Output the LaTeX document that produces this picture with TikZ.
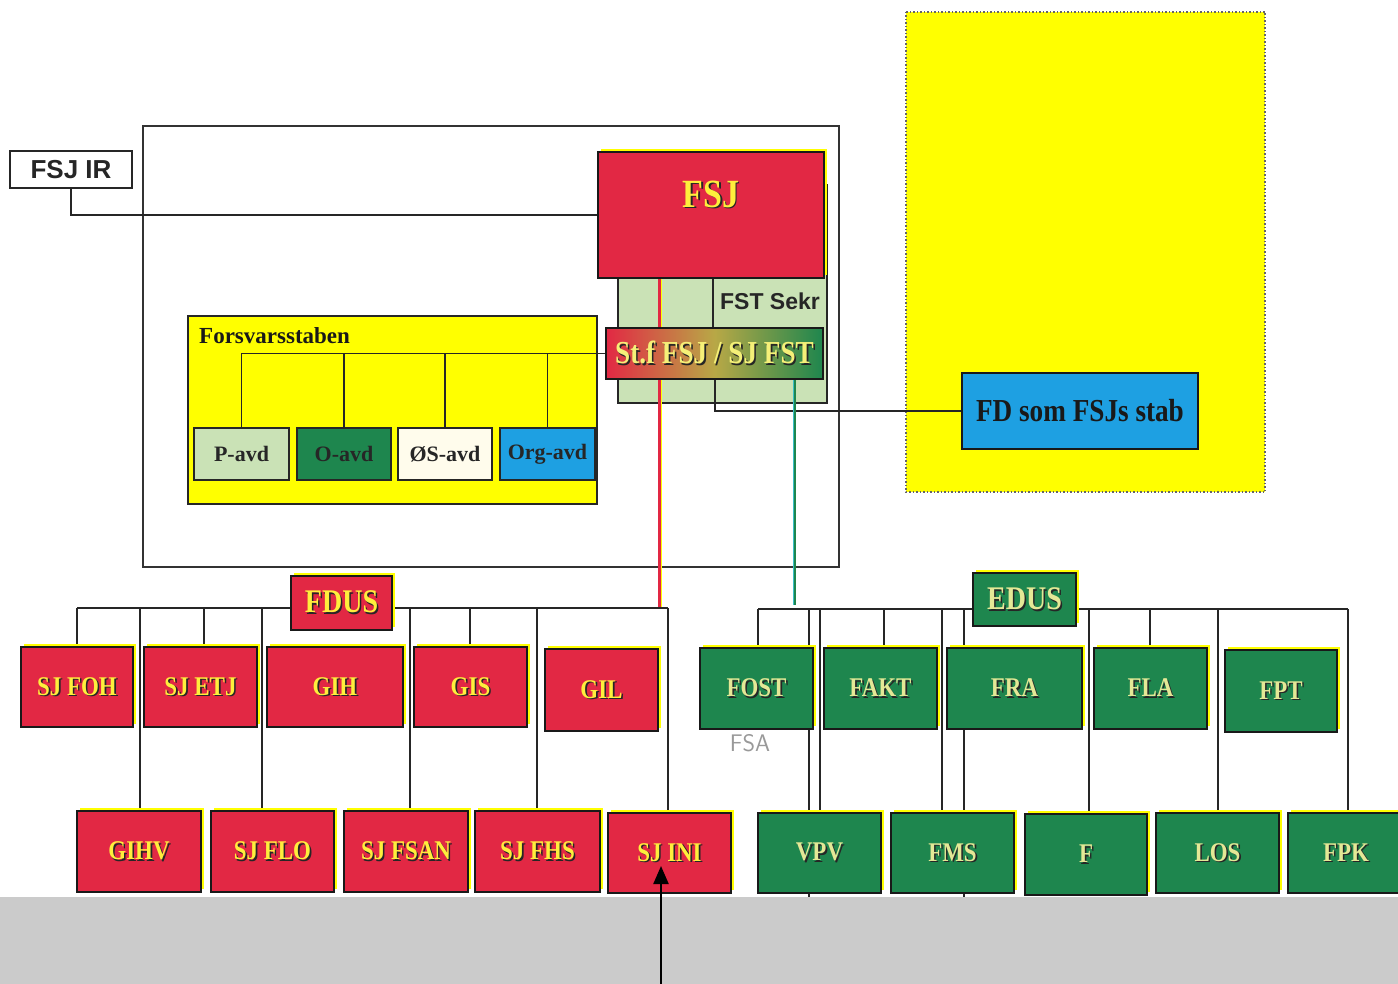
\documentclass[tikz,border=0pt]{standalone}
\usepackage{fontspec}
\setmainfont{Liberation Serif}
\newfontfamily\lblfont[FakeStretch=0.85]{Liberation Serif}
\newfontfamily\sansfont{Liberation Sans}
\usetikzlibrary{shadows,arrows.meta}
\pgfdeclarelayer{back}
\pgfdeclarelayer{wires}
\pgfsetlayers{back,wires,main}
\definecolor{rd}{RGB}{226,40,68}
\definecolor{gr}{RGB}{30,134,78}
\definecolor{ylw}{RGB}{255,255,0}
\definecolor{ytxt}{RGB}{255,238,60}
\definecolor{gtxt}{RGB}{228,232,150}
\definecolor{lgr}{RGB}{202,226,182}
\definecolor{blu}{RGB}{30,160,226}
\definecolor{crm}{RGB}{255,252,236}
\definecolor{band}{RGB}{203,203,203}
\definecolor{stfmid}{RGB}{184,168,70}
\newcommand\sh[1]{\rlap{\hspace{1.6pt}\raisebox{-1.6pt}{\color{black!85}#1}}#1}
\newcommand\ob[7]{\node[#1, minimum width={#5pt-#3pt}, minimum height={#6pt-#4pt}] (#2) at ({(#3+#5)/2},{(#4+#6)/2}) {#7};}
\begin{document}
\begin{tikzpicture}[x=1pt,y=-1pt,
  ubox/.style={draw=black!90, line width=1.5pt, inner sep=0pt,
    drop shadow={shadow xshift=3pt,shadow yshift=3pt,fill=ylw,opacity=1}},
  redbox/.style={ubox, fill=rd, text=ytxt, font=\lblfont\bfseries\fontsize{27}{27}\selectfont},
  grnbox/.style={ubox, fill=gr, text=gtxt, font=\lblfont\bfseries\fontsize{27}{27}\selectfont},
  headred/.style={redbox, font=\lblfont\bfseries\fontsize{33}{33}\selectfont},
  headgrn/.style={grnbox, font=\lblfont\bfseries\fontsize{33}{33}\selectfont},
  subbox/.style={draw=black!85, line width=1.5pt, inner sep=0pt, text=black!85,
    font=\bfseries\fontsize{22}{22}\selectfont},
  wire/.style={draw=black!85, line width=1.5pt},
  thinframe/.style={draw=black!80, line width=1.2pt}]
\useasboundingbox (0,0) rectangle (1398,984);

% ---------- background shapes ----------
\begin{pgfonlayer}{back}
  \fill[white] (0,0) rectangle (1398,984);
  \fill[band] (0,897) rectangle (1398,984);
  \path[fill=ylw, draw=black!60, line width=1.5pt, dotted] (906,12) rectangle (1265,492);
  \draw[thinframe] (143,126) rectangle (839,567);
  \path[fill=lgr, draw=black!85, line width=1.3pt] (618,185) rectangle (827,403);
  \path[fill=ylw, draw=black!85, line width=1.3pt] (188,316) rectangle (597,504);
\end{pgfonlayer}

% ---------- top part nodes ----------
\node[draw=black!85, line width=1.3pt, minimum width=122pt, minimum height=37pt, inner sep=0pt,
  font=\sansfont\bfseries\fontsize{26}{26}\selectfont, text=black!85] (fsjir) at (71,169.5) {FSJ IR};
\ob{ubox, fill=rd}{fsj}{598}{152}{824}{278}{}
\node[font=\lblfont\bfseries\fontsize{40}{40}\selectfont, text=ytxt] (fsjl) at (711,195) {\sh{FSJ}};
\node[font=\sansfont\bfseries\fontsize{23}{23}\selectfont, text=black!85] (sekr) at (770,301) {FST Sekr};
\ob{draw=black!90, line width=1.5pt, inner sep=0pt, left color=rd, right color=gr, middle color=stfmid,
  text={rgb,255:red,245;green,240;blue,120}, font=\lblfont\bfseries\fontsize{32}{32}\selectfont}{stf}{606}{328}{823}{379}{\sh{St.f FSJ / SJ FST}}
\node[anchor=west, inner sep=0pt, font=\bfseries\fontsize{23}{23}\selectfont, text=black!90] (fstab) at (199,336) {Forsvarsstaben};
\ob{subbox, fill=lgr}{pavd}{194}{428}{289}{480}{P-avd}
\ob{subbox, fill=gr}{oavd}{297}{428}{391}{480}{O-avd}
\ob{subbox, fill=crm}{osavd}{398}{428}{492}{480}{ØS-avd}
\ob{subbox, fill=blu}{orgavd}{500}{428}{595}{480}{Org-avd}
\ob{draw=black!90, line width=1.5pt, inner sep=0pt, fill=blu, text=black!90,
  font=\lblfont\bfseries\fontsize{32}{32}\selectfont}{fd}{962}{373}{1198}{449}{FD som FSJs stab}

% ---------- FDUS group ----------
\ob{headred}{fdus}{291}{576}{392}{630}{\sh{FDUS}}
\ob{redbox}{sjfoh}{21}{647}{133}{727}{\sh{SJ FOH}}
\ob{redbox}{sjetj}{144}{647}{257}{727}{\sh{SJ ETJ}}
\ob{redbox}{gih}{267}{647}{403}{727}{\sh{GIH}}
\ob{redbox}{gis}{414}{647}{527}{727}{\sh{GIS}}
\ob{redbox}{gil}{545}{649}{658}{731}{\sh{GIL}}
\ob{redbox}{gihv}{77}{811}{201}{892}{\sh{GIHV}}
\ob{redbox}{sjflo}{211}{811}{334}{892}{\sh{SJ FLO}}
\ob{redbox}{sjfsan}{344}{811}{468}{892}{\sh{SJ FSAN}}
\ob{redbox}{sjfhs}{475}{811}{600}{892}{\sh{SJ FHS}}
\ob{redbox}{sjini}{608}{813}{731}{893}{\sh{SJ INI}}

% ---------- EDUS group ----------
\ob{headgrn}{edus}{973}{573}{1076}{626}{\sh{EDUS}}
\ob{grnbox}{fost}{700}{648}{813}{729}{\sh{FOST}}
\ob{grnbox}{fakt}{824}{648}{937}{729}{\sh{FAKT}}
\ob{grnbox}{fra}{947}{648}{1082}{729}{\sh{FRA}}
\ob{grnbox}{fla}{1094}{648}{1207}{729}{\sh{FLA}}
\ob{grnbox}{fpt}{1225}{650}{1337}{732}{\sh{FPT}}
\ob{grnbox}{vpv}{758}{813}{881}{893}{\sh{VPV}}
\ob{grnbox}{fms}{891}{813}{1014}{893}{\sh{FMS}}
\ob{grnbox}{f}{1025}{814}{1147}{895}{\sh{F}}
\ob{grnbox}{los}{1156}{813}{1279}{893}{\sh{LOS}}
\ob{grnbox}{fpk}{1288}{813}{1404}{893}{\sh{FPK}}

\node[font=\sffamily\fontsize{24}{24}\selectfont, text=black!40] (fsa) at (750,743) {FSA};

% ---------- bus coordinates ----------
\coordinate (rb1) at (77,608);  \coordinate (rb2) at (140,608);
\coordinate (rb3) at (204,608); \coordinate (rb4) at (262,608);
\coordinate (rb5) at (410,608); \coordinate (rb6) at (470,608);
\coordinate (rb7) at (537,608); \coordinate (rb8) at (668,608);
\coordinate (rl) at (659,607);
\coordinate (gb1) at (758,609);  \coordinate (gb2) at (809,609);
\coordinate (gb3) at (820,609);  \coordinate (gb4) at (884,609);
\coordinate (gb5) at (942,609);  \coordinate (gb6) at (964,609);
\coordinate (gb7) at (1089,609); \coordinate (gb8) at (1150,609);
\coordinate (gb9) at (1218,609); \coordinate (gb10) at (1348,609);
\coordinate (gl) at (794,605);
\coordinate (atip) at (661,866);
\coordinate (abase) at (661,984);

% ---------- wires ----------
\begin{pgfonlayer}{wires}
  \draw[wire] (fsjir.south) |- (fsj.west);
  \draw[wire] ([xshift=2pt]fsj.south) -- ([xshift=2pt]fsj.south |- stf.north);
  \draw[wire] ([xshift=0.5pt]stf.south) |- (fd.west);
  \draw[wire] (pavd.north) |- (stf.west);
  \draw[wire] (oavd.north) -- (oavd.north |- stf.west);
  \draw[wire] (osavd.north) -- (osavd.north |- stf.west);
  \draw[wire] (orgavd.north) -- (orgavd.north |- stf.west);
  % red group
  \draw[wire] (rb1) -- (rb8);
  \draw[wire] (rb1) -- (sjfoh.north -| rb1);
  \draw[wire] (rb2) -- (gihv.north -| rb2);
  \draw[wire] (rb3) -- (sjetj.north -| rb3);
  \draw[wire] (rb4) -- (sjflo.north -| rb4);
  \draw[wire] (rb5) -- (sjfsan.north -| rb5);
  \draw[wire] (rb6) -- (gis.north -| rb6);
  \draw[wire] (rb7) -- (sjfhs.north -| rb7);
  \draw[wire] (rb8) -- (sjini.north -| rb8);
  \draw[wire, line width=2.2pt] (rb8) -- ++(0,42);
  \draw[draw=rd, line width=3pt] (fsj.south -| rl) -- (rl);
  \draw[draw=ylw, line width=1.6pt] ([xshift=2.3pt]fsj.south -| rl) -- ([xshift=2.3pt]rl);
  % green group
  \draw[wire] (gb1) -- (gb10);
  \draw[wire] (gb1) -- (fost.north -| gb1);
  \draw[wire] (gb2) -- ++(0,288);
  \draw[wire] (gb3) -- (vpv.north -| gb3);
  \draw[wire] (gb4) -- (fakt.north -| gb4);
  \draw[wire] (gb5) -- (fms.north -| gb5);
  \draw[wire] (gb6) -- ++(0,288);
  \draw[wire] (gb7) -- (f.north -| gb7);
  \draw[wire] (gb8) -- (fla.north -| gb8);
  \draw[wire] (gb9) -- (los.north -| gb9);
  \draw[wire] (gb10) -- (fpk.north -| gb10);
  \draw[wire, line width=2.2pt] (gb10) -- ++(0,42);
  \draw[draw={rgb,255:red,60;green,190;blue,200}, line width=3pt] (stf.south -| gl) -- (gl);
  \draw[draw=gr, line width=1.8pt] ([xshift=0.8pt]stf.south -| gl) -- ([xshift=0.8pt]gl);
\end{pgfonlayer}

% ---------- arrow ----------
\draw[line width=2.2pt, -{Triangle[length=18pt,width=15pt]}] (abase) -- (atip);
\end{tikzpicture}
\end{document}
